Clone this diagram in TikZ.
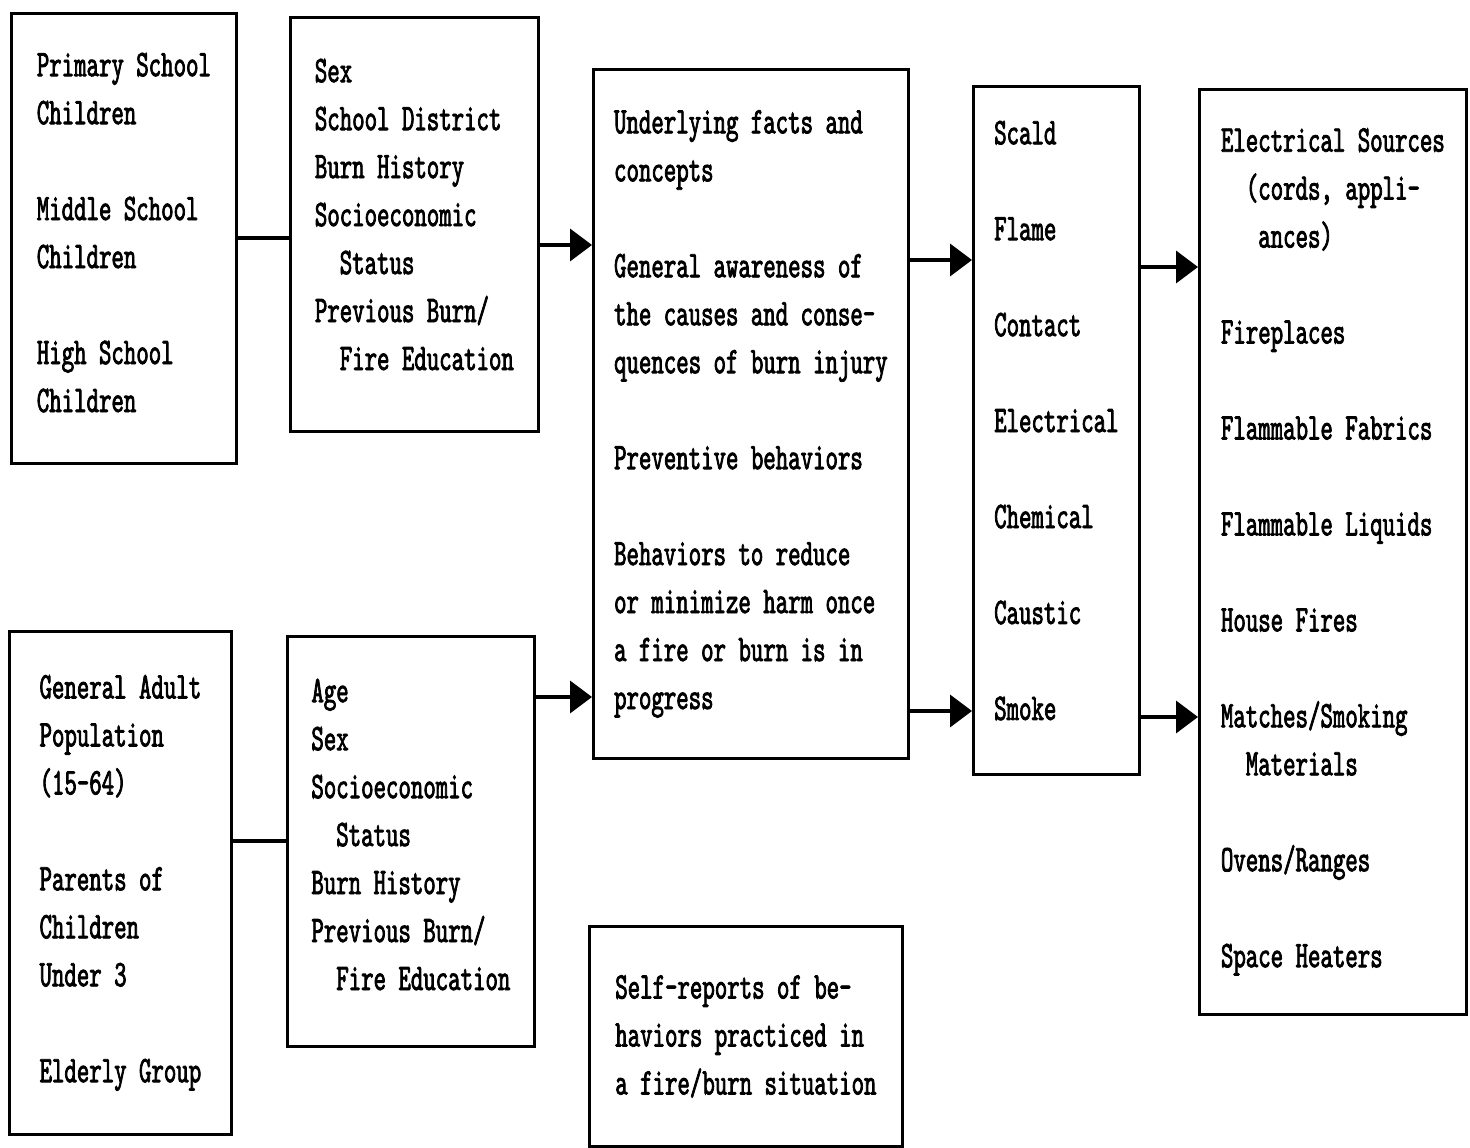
\documentclass[tikz,border=0pt]{standalone}
\usepackage{fontspec}
\newfontfamily\typew{lmmono10-regular}[Extension=.otf, FakeStretch=0.63, FakeBold=2, HyphenChar=None]
\usetikzlibrary{arrows.meta}
\newcommand\ind{\phantom{xx}}
\newcommand\gap{\\[\baselineskip]}

\begin{document}
\begin{tikzpicture}[
    font=\typew\fontsize{21.4}{27.3}\selectfont,
    box/.style={draw, line width=1.6pt, anchor=north west, align=left, inner sep=0pt},
    link/.style={line width=2.2pt},
    arrow/.style={line width=2.2pt, -{Triangle[length=0.44cm, width=0.64cm]}}
]
\useasboundingbox (0,0) rectangle (29.4,-22.96);

% Target groups and their variables
\node[box, minimum width=4.5cm, minimum height=9cm, text depth=0.24cm] (young) at (0.2,-0.24)
    {Primary School\\Children\gap Middle School\\Children\gap High School\\Children};
\node[box, minimum width=4.96cm, minimum height=8.28cm, text depth=0.4cm] (youngvars) at (5.78,-0.32)
    {Sex\\School District\\Burn History\\Socioeconomic\\\ind Status\\Previous Burn/\\\ind Fire Education};

\node[box, minimum width=4.44cm, minimum height=10.06cm] (adults) at (0.16,-12.6)
    {General Adult\\Population\\(15-64)\gap Parents of\\Children\\Under 3\gap Elderly Group};
\node[box, minimum width=4.94cm, minimum height=8.2cm, text depth=0.28cm] (adultvars) at (5.72,-12.7)
    {Age\\Sex\\Socioeconomic\\\ind Status\\Burn History\\Previous Burn/\\\ind Fire Education};

% Program content
\node[box, minimum width=6.3cm, minimum height=13.78cm] (content) at (11.84,-1.36)
    {Underlying facts and\\concepts\gap General awareness of\\the causes and conse-\\quences of burn injury\gap
     Preventive behaviors\gap Behaviors to reduce\\or minimize harm once\\a fire or burn is in\\progress};

% Evaluation
\node[box, minimum width=6.26cm, minimum height=4.4cm] (selfreport) at (11.76,-18.5)
    {Self-reports of be-\\haviors practiced in\\a fire/burn situation};

% Burn types and sources
\node[box, minimum width=3.32cm, minimum height=13.76cm, text depth=0.4cm] (burntypes) at (19.44,-1.7)
    {Scald\gap Flame\gap Contact\gap Electrical\gap Chemical\gap Caustic\gap Smoke};
\node[box, minimum width=5.34cm, minimum height=18.5cm] (sources) at (23.96,-1.76)
    {Electrical Sources\\\ind(cords, appli-\\\ind\phantom{x}ances)\gap Fireplaces\gap Flammable Fabrics\gap
     Flammable Liquids\gap House Fires\gap Matches/Smoking\\\ind Materials\gap Ovens/Ranges\gap Space Heaters};

% Connectors
\draw[link] (young.east) -- (young.east -| youngvars.west);
\draw[link] (adultvars.west -| adults.east) -- (adultvars.west);
\draw[arrow] (youngvars.east |- 0,-4.9) -- (content.west |- 0,-4.9);
\draw[arrow] (adultvars.east |- 0,-13.94) -- (content.west |- 0,-13.94);
\draw[arrow] (content.east |- 0,-5.2) -- (burntypes.west |- 0,-5.2);
\draw[arrow] (content.east |- 0,-14.22) -- (burntypes.west |- 0,-14.22);
\draw[arrow] (burntypes.east |- 0,-5.34) -- (sources.west |- 0,-5.34);
\draw[arrow] (burntypes.east |- 0,-14.34) -- (sources.west |- 0,-14.34);

\end{tikzpicture}
\end{document}
